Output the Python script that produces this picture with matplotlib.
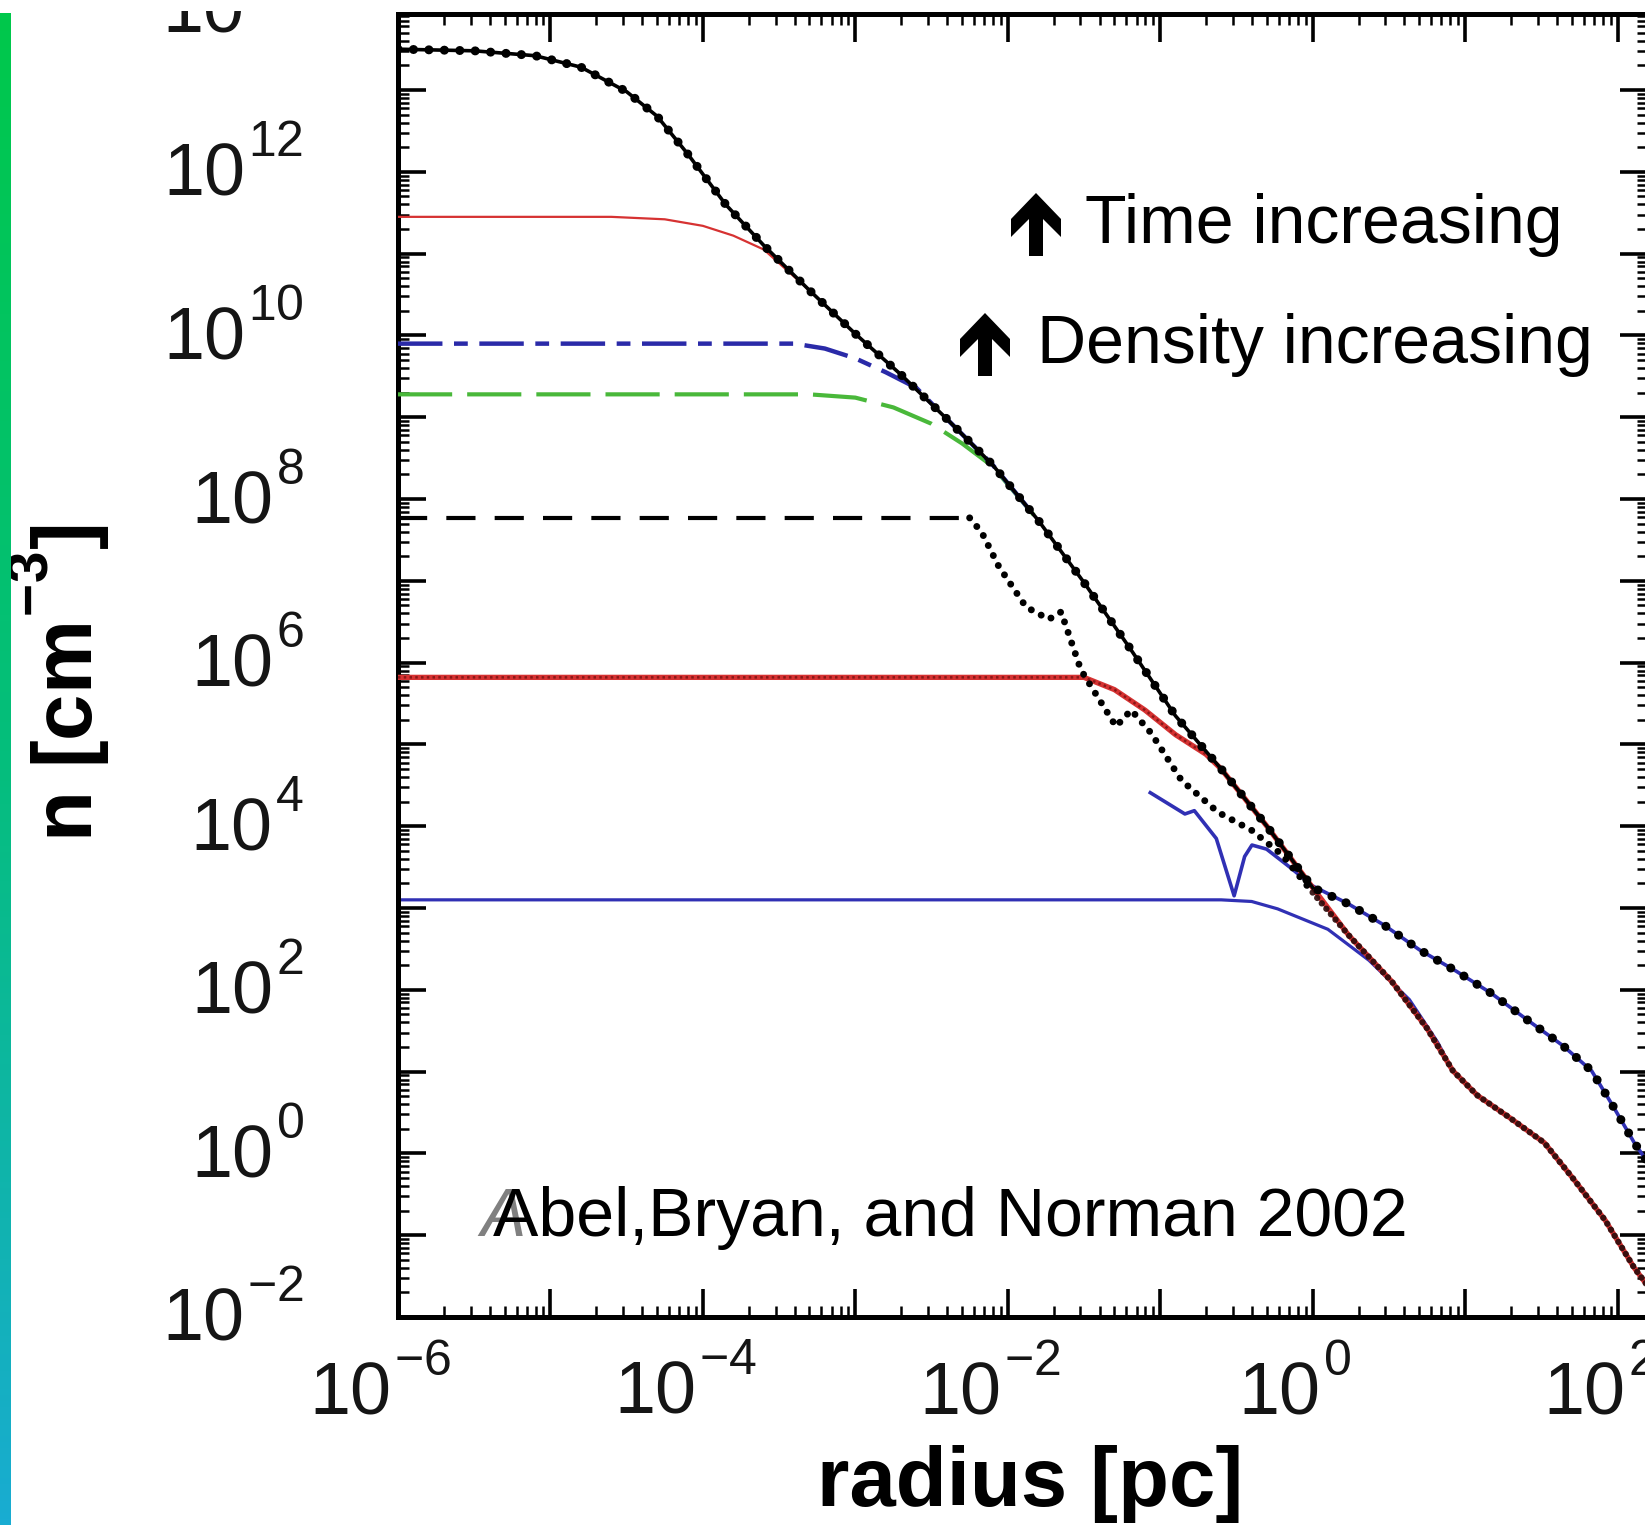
import numpy as np
import matplotlib
matplotlib.use('Agg')
import matplotlib.pyplot as plt
from matplotlib.ticker import FixedLocator, LogLocator, FuncFormatter, NullFormatter
from matplotlib.patches import Polygon, Rectangle
import matplotlib.transforms as mtrans

try:
    import matplotlib._mathtext as _mt
    _mt.SHRINK_FACTOR = 0.68
    _mt.FontConstantsBase.sup1 = 1.0
    _mt.FontConstantsBase.delta = 0.12
except Exception:
    pass

plt.rcParams['font.family'] = ['Liberation Sans', 'DejaVu Sans']
plt.rcParams['mathtext.fontset'] = 'custom'
plt.rcParams['mathtext.rm'] = 'Liberation Sans'
plt.rcParams['mathtext.it'] = 'Liberation Sans:italic'
plt.rcParams['mathtext.bf'] = 'Liberation Sans:bold'

# ---------------- data (log10 radius [pc], log10 n [cm^-3]) ----------------
# common collapse envelope
env_logr = np.array([-3.6, -3.3, -3.0, -2.7, -2.4, -2.1, -1.8, -1.5, -1.2, -0.9, -0.6, -0.3, 0.0])
env_logn = np.array([11.10, 10.55, 10.02, 9.52, 8.98, 8.42, 7.74, 6.98, 6.18, 5.35, 4.70, 4.00, 3.25])
# outer profile, upper branch
up_logr = np.array([0.0, 0.235, 0.47, 0.70, 0.94, 1.17, 1.41, 1.64, 1.83, 1.97, 2.11, 2.25])
up_logn = np.array([3.27, 3.05, 2.79, 2.49, 2.23, 1.96, 1.63, 1.32, 1.01, 0.58, 0.13, -0.25])
# outer profile, lower branch
lo_logr = np.array([0.0, 0.235, 0.52, 0.75, 0.92, 1.08, 1.29, 1.52, 1.71, 1.92, 2.11, 2.27])
lo_logn = np.array([3.19, 2.67, 2.10, 1.53, 1.01, 0.71, 0.44, 0.13, -0.31, -0.82, -1.40, -1.80])

# latest profile (black dotted)
top_core_logr = np.array([-6.0, -5.5, -5.1, -4.8, -4.5, -4.3, -4.1, -3.85])
top_core_logn = np.array([13.50, 13.48, 13.42, 13.28, 12.98, 12.68, 12.22, 11.60])
# red solid
rs_core_logr = np.array([-6.0, -4.6, -4.25, -4.0, -3.8, -3.6])
rs_core_logn = np.array([11.45, 11.45, 11.42, 11.34, 11.22, 11.05])
# blue dash-dot
bd_core_logr = np.array([-6.0, -3.4, -3.2, -3.0, -2.8, -2.6])
bd_core_logn = np.array([9.90, 9.90, 9.84, 9.72, 9.55, 9.36])
# green dashed
gd_core_logr = np.array([-6.0, -3.3, -3.0, -2.75, -2.5, -2.3, -2.1])
gd_core_logn = np.array([9.28, 9.28, 9.24, 9.12, 8.92, 8.68, 8.40])
# black dashed (flat part) and its dotted continuation
kd_core_logr = np.array([-6.0, -2.25])
kd_core_logn = np.array([7.77, 7.77])
kd_tail_logr = np.array([-2.25, -2.17, -2.06, -1.88, -1.73, -1.65, -1.52, -1.29, -1.19, -1.06, -0.86, -0.62, -0.4, -0.2, 0.0])
kd_tail_logn = np.array([7.77, 7.59, 7.18, 6.68, 6.53, 6.62, 5.91, 5.22, 5.42, 5.14, 4.56, 4.17, 3.95, 3.65, 3.19])
# red dotted
rd_core_logr = np.array([-6.0, -1.5, -1.3, -1.1, -0.9, -0.7])
rd_core_logn = np.array([5.82, 5.82, 5.67, 5.42, 5.12, 4.88])
# blue solid (earliest)
bs_core_logr = np.array([-6.0, -0.6, -0.4, -0.23, 0.1, 0.37, 0.635, 0.82, 0.92])
bs_core_logn = np.array([3.10, 3.10, 3.08, 2.99, 2.74, 2.36, 1.88, 1.36, 1.01])
# blue jagged
bj_logr = np.array([-1.065, -0.838, -0.776, -0.632, -0.515, -0.446, -0.398, -0.302, -0.15])
bj_logn = np.array([4.41, 4.15, 4.19, 3.85, 3.15, 3.63, 3.77, 3.72, 3.50])

x_label_exps = [-6, -5, -4, -3, -2, -1, 0, 1, 2]
y_label_exps = list(range(-2, 15))


def seg(lr, ln, lo=None, hi=None):
    m = np.ones_like(lr, dtype=bool)
    if lo is not None:
        m &= lr >= lo
    if hi is not None:
        m &= lr <= hi
    return lr[m], ln[m]


def join(*parts):
    return (np.concatenate([p[0] for p in parts]), np.concatenate([p[1] for p in parts]))


W, H = 1645, 1525
fig = plt.figure(figsize=(W / 100, H / 100), dpi=100)
ax = fig.add_axes([398 / W, (H - 1317) / H, 1250 / W, 1303 / H])
ax.set_xscale('log')
ax.set_yscale('log')


def P(lr, ln, **kw):
    return ax.plot(10.0 ** lr, 10.0 ** ln, **kw)


blue = '#2a2aa8'
red = '#d63232'

# blue solid
r, n = join((bs_core_logr, bs_core_logn), seg(lo_logr, lo_logn, lo=1.0))
P(r, n, color='#3030b4', lw=2.3, zorder=2)
# blue jagged + upper branch
r, n = join((bj_logr, bj_logn), (up_logr, up_logn))
P(r, n, color='#3030b4', lw=2.6, zorder=2)
# red dotted
r, n = join((rd_core_logr, rd_core_logn), seg(env_logr, env_logn, lo=-0.65), seg(lo_logr, lo_logn, lo=0.1))
P(r, n, color=red, lw=3.8, zorder=3, solid_capstyle='butt')
P(rd_core_logr, rd_core_logn, color='#8a1818', lw=1.8, ls=(0, (1, 1.3)), zorder=3.1)
# red solid
r, n = join((rs_core_logr, rs_core_logn), seg(env_logr, env_logn, lo=-3.35), seg(lo_logr, lo_logn, lo=0.1))
P(r, n, color=red, lw=1.6, zorder=3)
# black dashed + dotted tail
P(kd_core_logr, kd_core_logn, color='black', lw=3.0, ls=(0, (7, 4.6)), zorder=4)
ln_, = P(kd_tail_logr, kd_tail_logn, color='black', lw=5.0, ls=(0, (0.01, 1.6)), zorder=4)
ln_.set_dash_capstyle('round')
r, n = seg(lo_logr, lo_logn, lo=0.0)
ln_, = P(r, n, color='#2a0a0a', lw=4.6, ls=(0, (0.01, 1.1)), zorder=4, alpha=0.9)
ln_.set_dash_capstyle('round')
# green dashed
r, n = join((gd_core_logr, gd_core_logn), seg(env_logr, env_logn, lo=-2.0, hi=-1.8))
P(r, n, color='#49b83a', lw=3.0, ls=(0, (13, 3.6)), zorder=4)
# blue dash-dot
r, n = join((bd_core_logr, bd_core_logn), seg(env_logr, env_logn, lo=-2.5, hi=-1.8))
P(r, n, color=blue, lw=3.2, ls=(0, (10, 2.6, 3.1, 2.6)), zorder=4)
# black dotted (latest)
r, n = join((top_core_logr, top_core_logn), (env_logr, env_logn))
P(r, n, color='black', lw=2.6, zorder=5)
r, n = join((top_core_logr, top_core_logn), (env_logr, env_logn), seg(up_logr, up_logn, lo=0.1))
ln_, = P(r, n, color='black', lw=6.5, ls=(0, (0.01, 1.7)), zorder=5)
ln_.set_dash_capstyle('round')

ax.set_xlim(1e-6, 10 ** 2.2)
ax.set_ylim(1e-2, 10 ** 13.93)


def fmt(v, p):
    e = int(round(np.log10(v)))
    if e % 2:
        return ''
    return r'$\mathregular{10^{%d}}$' % e


ax.xaxis.set_major_locator(FixedLocator([10.0 ** e for e in x_label_exps]))
ax.yaxis.set_major_locator(FixedLocator([10.0 ** e for e in y_label_exps]))
ax.xaxis.set_minor_locator(LogLocator(base=10, subs=np.arange(2, 10), numticks=100))
ax.yaxis.set_minor_locator(LogLocator(base=10, subs=np.arange(2, 10), numticks=100))
ax.xaxis.set_major_formatter(FuncFormatter(fmt))
ax.yaxis.set_major_formatter(FuncFormatter(fmt))
ax.xaxis.set_minor_formatter(NullFormatter())
ax.yaxis.set_minor_formatter(NullFormatter())

ax.tick_params(which='both', direction='in', top=True, right=True, colors='black', labelcolor='#151515')
ax.tick_params(which='major', length=20, width=2.6)
ax.tick_params(which='minor', length=8, width=1.8)
ax.tick_params(axis='y', which='major', pad=68, labelsize=53)
ax.tick_params(axis='x', which='major', pad=24, labelsize=53)
for s in ax.spines.values():
    s.set_linewidth(3.6)

xoff = mtrans.ScaledTranslation(-0.18, 0, fig.dpi_scale_trans)
for t in ax.xaxis.get_major_ticks():
    t.label1.set_transform(t.label1.get_transform() + xoff)
yoff = mtrans.ScaledTranslation(0, 0.08, fig.dpi_scale_trans)
for t in ax.yaxis.get_major_ticks():
    t.label1.set_transform(t.label1.get_transform() + yoff)

# partially cropped top label
ax.annotate(r'$\mathregular{10^{14}}$', xy=(0, 1e14), xycoords=ax.get_yaxis_transform(),
            xytext=(-68, 5.8), textcoords='offset points', ha='right', va='center_baseline',
            fontsize=53, color='#151515', annotation_clip=False)

# axis labels
fig.text(1030 / W, 1 - 1484 / H, 'radius [pc]', ha='center', va='center', fontsize=60, fontweight='bold')
fig.text(60 / W, 1 - 683 / H, r'n [cm$^{\mathbf{-3}}$]', ha='center', va='center', rotation=90,
         fontsize=60, fontweight='bold')

# annotations
fig.text(1085 / W, 1 - 243 / H, 'Time increasing', fontsize=49, ha='left', va='baseline')
fig.text(1037 / W, 1 - 363 / H, 'Density increasing', fontsize=49, ha='left', va='baseline')
fig.text(480 / W, 1 - 1236 / H, 'A', fontsize=49, ha='left', va='baseline', color='#555555', alpha=0.75,
         style='italic')
fig.text(493 / W, 1 - 1236 / H, 'Abel,Bryan, and Norman 2002', fontsize=49, ha='left', va='baseline')


def arrow(dx, dy):
    pts = [(1036, 193), (1061, 219), (1061, 237), (1043, 219), (1043, 256), (1029, 256),
           (1029, 219), (1011, 237), (1011, 219)]
    pts = [((x + dx) / W, 1 - (y + dy) / H) for x, y in pts]
    fig.patches.append(Polygon(pts, closed=True, transform=fig.transFigure, facecolor='black',
                               edgecolor='none', zorder=6))


arrow(0, 0)
arrow(-51, 120)

# white strip on top (cropped image)
fig.patches.append(Rectangle((0, 1 - 11 / H), 1, 11 / H, transform=fig.transFigure, facecolor='white',
                             edgecolor='none', zorder=20))

# gradient bar on the left
bar = fig.add_axes([0, 0, 11 / W, (H - 13) / H], zorder=30)
t = np.linspace(0, 1, 256)
c0 = np.array([0, 200, 75]) / 255
c1 = np.array([5, 190, 125]) / 255
c2 = np.array([25, 172, 210]) / 255
cols = np.where(t[:, None] < 0.5, c0 + (c1 - c0) * (t[:, None] / 0.5), c1 + (c2 - c1) * ((t[:, None] - 0.5) / 0.5))
bar.imshow(cols[:, None, :], aspect='auto', extent=[0, 1, 0, 1], origin='upper')
bar.set_axis_off()

fig.savefig('out.png', dpi=100, facecolor='white')
